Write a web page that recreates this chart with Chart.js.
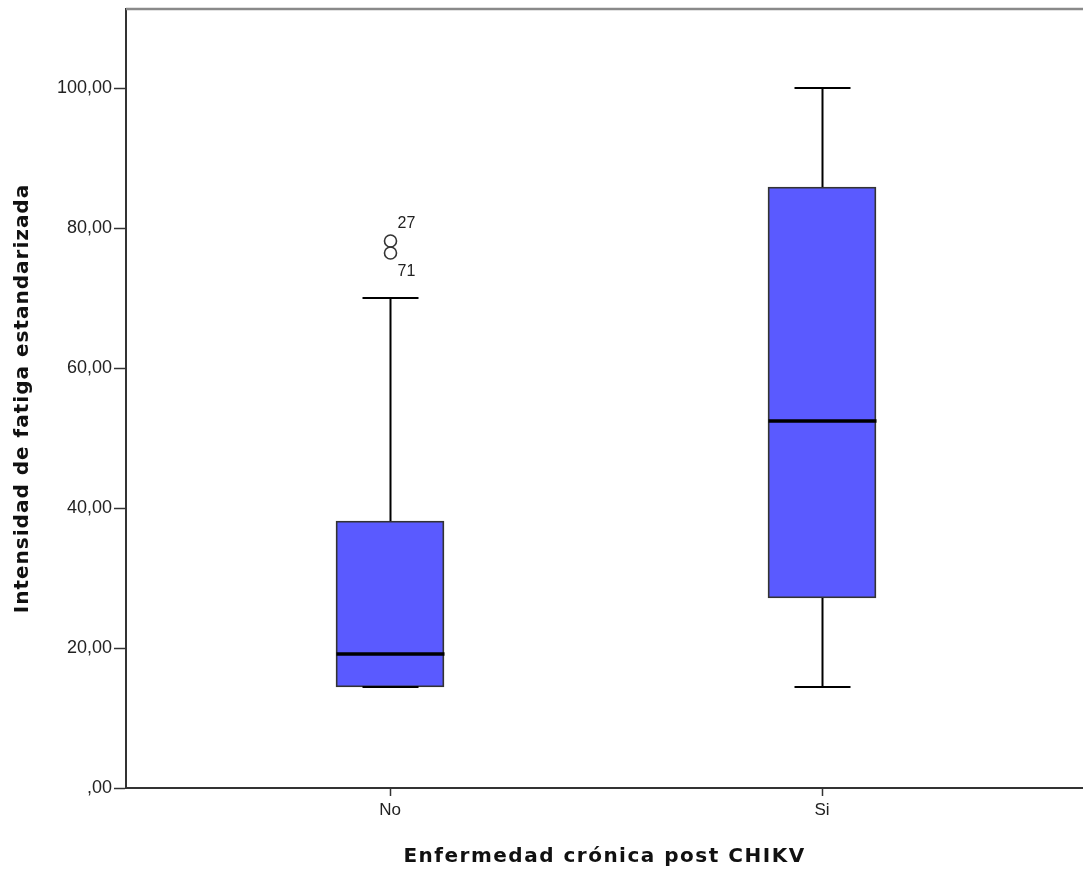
<!DOCTYPE html>
<html><head><meta charset="utf-8">
<script src="https://cdn.jsdelivr.net/npm/chart.js@4.4.1/dist/chart.umd.min.js"></script>
<style>html,body{margin:0;padding:0;background:#fff;}#wrap{width:1083px;height:869px;}</style>
</head><body><div id="wrap"><canvas id="c" width="1083" height="869"></canvas></div>
<script>
const categories = ['No', 'Si'];
const q1 = [14.43, 27.14];
const q3 = [38.14, 85.86];
const medians = [19.14, 52.43];
const whiskerLow = [14.43, 14.43];
const whiskerHigh = [70.0, 100.0];
const outlierValues = [[78.14, 76.43], []];
const outlierLabels = [['27', '71'], []];
const yTicks = [0, 20, 40, 60, 80, 100];
const yMax = 111.29;
const xTitle = 'Enfermedad crónica post CHIKV';
const yTitle = 'Intensidad de fatiga estandarizada';

const boxData = categories.map((c, i) => ({x: i + 1, y: [q1[i], q3[i]]}));

const fmt = v => v === 0 ? ',00' : v.toFixed(2).replace('.', ',');

const boxPlugin = {
  id: 'boxExtras',
  afterDatasetsDraw(chart) {
    const {ctx, chartArea, scales: {x, y}} = chart;
    ctx.save();
    ctx.strokeStyle = '#8a8a8a';
    ctx.lineWidth = 2.5;
    ctx.beginPath(); ctx.moveTo(chartArea.left, chartArea.top); ctx.lineTo(chartArea.right, chartArea.top); ctx.stroke();
    categories.forEach((c, i) => {
      const cx = Math.round(x.getPixelForValue(i + 1)) + 0.5;
      const capHalf = 28, boxHalf = 54;
      ctx.strokeStyle = '#000';
      ctx.lineWidth = 2;
      const yl = y.getPixelForValue(whiskerLow[i]), yq1 = y.getPixelForValue(q1[i]);
      const yh = y.getPixelForValue(whiskerHigh[i]), yq3 = y.getPixelForValue(q3[i]);
      ctx.beginPath();
      ctx.moveTo(cx, yh); ctx.lineTo(cx, yq3);
      ctx.moveTo(cx, yq1); ctx.lineTo(cx, yl);
      ctx.moveTo(cx - capHalf, yh); ctx.lineTo(cx + capHalf, yh);
      ctx.moveTo(cx - capHalf, yl); ctx.lineTo(cx + capHalf, yl);
      ctx.stroke();
      const ym = y.getPixelForValue(medians[i]);
      ctx.lineWidth = 3.5;
      ctx.beginPath(); ctx.moveTo(cx - boxHalf, ym); ctx.lineTo(cx + boxHalf, ym); ctx.stroke();
      ctx.lineWidth = 1.6;
      ctx.strokeStyle = '#333';
      ctx.fillStyle = '#222';
      ctx.font = '16px "Liberation Sans", Arial, sans-serif';
      outlierValues[i].forEach((v, k) => {
        const oy = y.getPixelForValue(v);
        ctx.beginPath(); ctx.ellipse(cx, oy, 6, 6, 0, 0, Math.PI * 2); ctx.stroke();
        ctx.textAlign = 'left';
        ctx.textBaseline = 'middle';
        const dy = k === 0 ? -17 : 19;
        ctx.fillText(outlierLabels[i][k], cx + 7, oy + dy);
      });
    });
    ctx.fillStyle = '#111';
    ctx.font = 'bold 20px "DejaVu Sans", Verdana, sans-serif';
    ctx.textAlign = 'center';
    ctx.textBaseline = 'middle';
    ctx.letterSpacing = '1.5px';
    ctx.fillText(xTitle, (chartArea.left + chartArea.right) / 2, 857);
    ctx.letterSpacing = '1px';
    ctx.translate(23, (chartArea.top + chartArea.bottom) / 2);
    ctx.rotate(-Math.PI / 2);
    ctx.fillText(yTitle, 0, 0);
    ctx.restore();
  }
};

new Chart(document.getElementById('c'), {
  type: 'bar',
  data: {
    datasets: [{
      data: boxData,
      backgroundColor: '#5a5aff',
      borderColor: '#333',
      borderWidth: 1.8,
      borderSkipped: false,
      barThickness: 108,
      grouped: false
    }]
  },
  options: {
    responsive: false,
    animation: false,
    events: [],
    layout: {padding: {top: 9, right: 0, left: 0, bottom: 0}},
    plugins: {legend: {display: false}, tooltip: {enabled: false}},
    scales: {
      x: {
        type: 'linear',
        offset: false,
        min: 1 - 264 / 432,
        max: 2 + 261 / 432,
        afterBuildTicks(s) { s.ticks = categories.map((c, i) => ({value: i + 1})); },
        afterFit(s) { s.height = 81; s.paddingLeft = 0; s.paddingRight = 0; },
        ticks: {
          autoSkip: false,
          maxRotation: 0,
          color: '#222',
          padding: 4,
          font: {family: '"Liberation Sans", Arial, sans-serif', size: 17},
          callback: (v) => categories[Math.round(v) - 1]
        },
        grid: {offset: false, drawOnChartArea: false, tickLength: 8, color: '#333', tickWidth: 1.5},
        border: {color: '#333', width: 2},
        title: {display: false}
      },
      y: {
        type: 'linear',
        min: 0,
        max: yMax,
        afterBuildTicks(s) { s.ticks = yTicks.map(v => ({value: v})); },
        afterFit(s) { s.width = 126; s.paddingTop = 0; s.paddingBottom = 0; },
        ticks: {
          color: '#222',
          padding: 2,
          font: {family: '"Liberation Sans", Arial, sans-serif', size: 18},
          callback: v => fmt(v)
        },
        grid: {drawOnChartArea: false, tickLength: 12, color: '#333', tickWidth: 1.5},
        border: {color: '#333', width: 2},
        title: {display: false}
      }
    }
  },
  plugins: [boxPlugin]
});
</script>
</body></html>
